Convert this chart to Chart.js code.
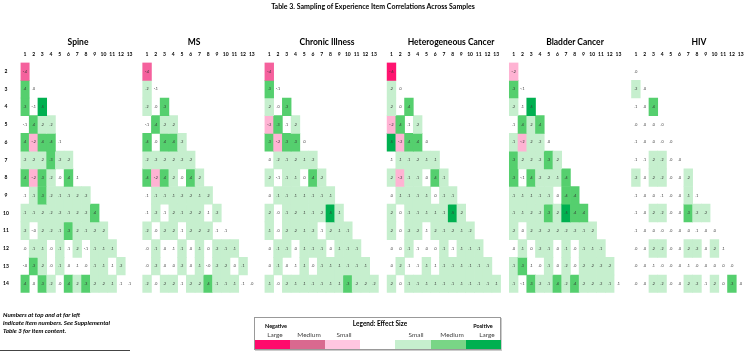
<!DOCTYPE html>
<html>
<head>
<meta charset="utf-8">
<script src="https://cdn.jsdelivr.net/npm/chart.js@4.4.1/dist/chart.umd.min.js"></script>
<style>
    html, body { margin: 0; padding: 0; background: #fff; }
    #wrap { position: relative; width: 745px; height: 353px; overflow: hidden; font-family: Lato, 'Open Sans', sans-serif; color: #000; }
    #chartBox { position: absolute; left: 0; top: 0; width: 745px; height: 353px; }
    .lbl { position: absolute; white-space: nowrap; line-height: 1; transform: translate(-50%, -50%); }
    .b { font-weight: bold; }
    #note { position: absolute; left: 3px; top: 311px; font-size: 6.2px; font-style: italic; font-weight: bold; line-height: 8px; }
    #noteLine { position: absolute; left: 0; top: 350px; width: 130px; height: 1px; background: #444; }
    #legendBox { position: absolute; left: 254px; top: 317px; width: 245px; height: 31px; border: 1px solid #999; box-shadow: 1px 1px 0 #ccc; }
    .sw { position: absolute; top: 22px; height: 9px; }
</style>
</head>
<body>
<div id="wrap">
    <div id="chartBox"><canvas id="heat"></canvas></div>
    <div class="lbl b" style="left:373px; top:6px; font-size:7px;">Table 3. Sampling of Experience Item Correlations Across Samples</div>
    <div id="panelTitles"></div>
    <div id="note">Numbers at top and at far left<br>indicate item numbers. See Supplemental<br>Table 3 for item content.</div>
    <div id="noteLine"></div>
    <div id="legendBox"></div>
</div>
<script>
(function () {
    // sample names and where their titles sit
    const sampleNames = ['Spine', 'MS', 'Chronic Illness', 'Heterogeneous Cancer', 'Bladder Cancer', 'HIV'];
    const titleCenters = [78, 194, 327, 451, 575, 699];

    // item numbers
    const itemCols = [1, 2, 3, 4, 5, 6, 7, 8, 9, 10, 11, 12, 13];
    const itemRows = [2, 3, 4, 5, 6, 7, 8, 9, 10, 11, 12, 13, 14];

    // lower triangle correlations, one list per row (row 2 .. row 14)
    const spine = [
        [-0.4],
        [0.4, 0.0],
        [0.3, -0.06, 0.5],
        [-0.06, 0.4, 0.2, 0.2],
        [0.4, -0.2, 0.4, 0.4, 0.06],
        [0.2, 0.2, 0.2, 0.3, 0.2, 0.2],
        [0.4, -0.2, 0.3, 0.2, 0.0, 0.4, 0.06],
        [0.06, 0.1, 0.3, 0.2, 0.1, 0.1, 0.2, 0.2],
        [0.1, 0.1, 0.2, 0.2, 0.2, 0.1, 0.2, 0.2, 0.4],
        [0.2, -0.04, 0.2, 0.2, 0.1, 0.3, 0.2, 0.1, 0.2, 0.2],
        [0.0, 0.1, 0.1, 0.0, 0.1, 0.06, 0.2, -0.06, 0.1, 0.1, 0.1],
        [-0.04, 0.3, 0.2, 0.0, 0.1, 0.04, 0.06, 0.0, 0.1, 0.1, 0.06, 0.2],
        [0.4, 0.0, 0.3, 0.2, 0.04, 0.4, 0.2, 0.3, 0.2, 0.2, 0.1, 0.06, 0.06]
    ];
    const ms = [
        [-0.4],
        [0.2, -0.06],
        [0.2, 0.0, 0.3],
        [-0.06, 0.4, 0.2, 0.2],
        [0.4, 0.0, 0.4, 0.4, 0.2],
        [0.2, 0.2, 0.2, 0.2, 0.2, 0.2],
        [0.4, -0.2, 0.4, 0.2, 0.0, 0.4, 0.2],
        [0.06, 0.1, 0.1, 0.1, 0.2, 0.2, 0.1, 0.2],
        [0.06, 0.2, 0.06, 0.2, 0.1, 0.2, 0.2, 0.06, 0.2],
        [0.2, 0.0, 0.2, 0.2, 0.06, 0.2, 0.2, 0.2, 0.06, 0.06],
        [0.0, 0.1, 0.0, 0.06, 0.1, 0.0, 0.1, 0.0, 0.2, 0.1, 0.1],
        [0.0, 0.2, 0.0, 0.0, 0.2, 0.0, 0.1, -0.04, 0.2, 0.2, 0.0, 0.1],
        [0.2, 0.0, 0.2, 0.2, 0.06, 0.2, 0.2, 0.4, 0.1, 0.1, 0.1, 0.06, 0.0]
    ];
    const chronic = [
        [-0.4],
        [0.3, -0.06],
        [0.2, 0.0, 0.3],
        [-0.2, 0.3, 0.06, 0.2],
        [0.3, -0.2, 0.3, 0.3, 0.0],
        [0.0, 0.2, 0.1, 0.2, 0.1, 0.2],
        [0.2, -0.06, 0.1, 0.1, 0.0, 0.4, 0.2],
        [0.0, 0.1, 0.1, 0.1, 0.1, 0.1, 0.1, 0.1],
        [0.2, 0.0, 0.1, 0.2, 0.1, 0.1, 0.2, 0.5, 0.1],
        [0.1, 0.0, 0.2, 0.2, 0.1, 0.2, 0.06, 0.2, 0.1, 0.1],
        [0.0, 0.1, 0.1, 0.04, 0.1, 0.1, 0.1, 0.0, 0.1, 0.1, 0.1],
        [0.0, 0.1, 0.04, 0.06, 0.1, 0.0, 0.1, 0.1, 0.1, 0.1, 0.1, 0.1],
        [0.1, 0.0, 0.2, 0.1, 0.1, 0.1, 0.1, 0.1, 0.1, 0.3, 0.2, 0.2, 0.2]
    ];
    const hetero = [
        [-0.6],
        [0.2, 0.0],
        [0.2, 0.0, 0.4],
        [-0.2, 0.4, 0.06, 0.2],
        [0.5, -0.2, 0.4, 0.4, 0.0],
        [0.06, 0.1, 0.1, 0.2, 0.1, 0.1],
        [0.2, -0.2, 0.1, 0.1, 0.0, 0.4, 0.1],
        [0.0, 0.1, 0.1, 0.1, 0.1, 0.0, 0.1, 0.1],
        [0.2, 0.0, 0.1, 0.1, 0.1, 0.1, 0.1, 0.5, 0.2],
        [0.2, 0.0, 0.2, 0.2, 0.06, 0.2, 0.1, 0.2, 0.1, 0.2],
        [0.0, 0.0, 0.1, 0.06, 0.04, 0.0, 0.1, 0.06, 0.1, 0.1, 0.1],
        [0.0, 0.2, 0.06, 0.06, 0.1, 0.06, 0.1, 0.1, 0.1, 0.1, 0.1, 0.1],
        [0.2, 0.0, 0.1, 0.1, 0.1, 0.1, 0.1, 0.1, 0.1, 0.1, 0.1, 0.1, 0.1]
    ];
    const bladder = [
        [-0.2],
        [0.3, -0.06],
        [0.2, 0.06, 0.5],
        [0.06, 0.4, 0.2, 0.4],
        [0.1, -0.2, 0.2, 0.2, 0.0],
        [0.3, 0.2, 0.2, 0.2, 0.3, 0.2],
        [0.3, -0.06, 0.4, 0.2, 0.2, 0.1, 0.4],
        [0.1, 0.1, 0.1, 0.1, 0.1, 0.0, 0.4, 0.4],
        [0.1, 0.1, 0.2, 0.2, 0.3, 0.2, 0.5, 0.4, 0.4],
        [0.2, 0.0, 0.2, 0.2, 0.2, 0.2, 0.2, 0.2, 0.1, 0.2],
        [0.0, 0.1, 0.0, 0.2, 0.1, 0.0, 0.1, 0.0, 0.1, 0.1, 0.1],
        [0.1, 0.3, 0.06, 0.04, 0.1, 0.0, 0.2, 0.0, 0.2, 0.2, 0.2, 0.2],
        [0.1, -0.06, 0.3, 0.2, 0.1, 0.4, 0.2, 0.4, 0.2, 0.2, 0.2, 0.1, 0.06]
    ];
    const hiv = [
        [0.0],
        [0.2, 0.0],
        [0.06, 0.0, 0.4],
        [0.0, 0.0, 0.0, 0.0],
        [0.06, 0.0, 0.0, 0.0, 0.0],
        [0.06, 0.06, 0.2, 0.2, 0.0, 0.0],
        [0.2, 0.0, 0.2, 0.2, 0.0, 0.0, 0.2],
        [0.06, 0.0, 0.0, 0.06, 0.0, 0.0, 0.1, 0.06],
        [0.06, 0.0, 0.2, 0.2, 0.0, 0.0, 0.3, 0.2, 0.2],
        [0.06, 0.0, 0.0, 0.0, 0.0, 0.0, 0.0, 0.06, 0.0, 0.0],
        [0.0, 0.0, 0.2, 0.2, 0.0, 0.0, 0.2, 0.2, 0.0, 0.2, 0.06],
        [0.0, 0.0, 0.06, 0.0, 0.0, 0.0, 0.06, 0.0, 0.0, 0.0, 0.0, 0.0],
        [0.0, 0.0, 0.2, 0.2, 0.0, 0.0, 0.2, 0.2, 0.06, 0.2, 0.0, 0.3, 0.0]
    ];
    const samples = [spine, ms, chronic, hetero, bladder, hiv];

    // effect size colours: small, medium, large
    const posColors = ['#c6efce', '#55cf6e', '#00b050'];
    const negColors = ['#ffb3d3', '#f5619d', '#ff1470'];
    const legendNeg = ['#ff0a6c', '#d9698f', '#ffc6e0'];
    const legendPos = ['#c6efce', '#79d586', '#00b050'];

    const slotsPerSample = itemCols.length + 1;
    const slotCount = samples.length * slotsPerSample - 1;

    function cellColor(v) {
        const a = Math.abs(v);
        if (a < 0.1) {
            return null;
        }
        const lvl = a >= 0.5 ? 2 : (a >= 0.3 ? 1 : 0);
        return (v > 0 ? posColors : negColors)[lvl];
    }

    function fmtCorr(v) {
        return v.toFixed(1).replace('0.', '.');
    }

    const labels = [];
    for (let i = 0; i < slotCount; i++) {
        labels.push(String(i));
    }

    const datasets = itemRows.map((r, ri) => {
        const data = new Array(slotCount).fill(null);
        const colors = new Array(slotCount).fill('rgba(0,0,0,0)');
        samples.forEach((s, k) => {
            s[ri].forEach((v, j) => {
                const c = cellColor(v);
                if (c) {
                    data[k * slotsPerSample + j] = [r - 0.5, r + 0.5];
                    colors[k * slotsPerSample + j] = c;
                }
            });
        });
        return {
            label: 'Item ' + r,
            data,
            backgroundColor: colors,
            borderWidth: 0,
            grouped: false,
            barPercentage: 1,
            categoryPercentage: 1
        };
    });

    const textPlugin = {
        id: 'cellText',
        afterDatasetsDraw(chart) {
            const ctx = chart.ctx;
            const x = chart.scales.x;
            const y = chart.scales.y;
            ctx.save();
            ctx.textAlign = 'center';
            ctx.textBaseline = 'middle';

            ctx.font = '3.6px Lato';
            ctx.fillStyle = '#333';
            samples.forEach((s, k) => {
                s.forEach((row, ri) => {
                    row.forEach((v, j) => {
                        ctx.fillText(fmtCorr(v), x.getPixelForValue(k * slotsPerSample + j), y.getPixelForValue(itemRows[ri]));
                    });
                });
            });

            ctx.font = 'bold 5px Lato';
            ctx.fillStyle = '#000';
            const headY = y.getPixelForValue(1.05);
            samples.forEach((s, k) => {
                itemCols.forEach((c, j) => {
                    ctx.fillText(String(c), x.getPixelForValue(k * slotsPerSample + j), headY);
                });
            });
            itemRows.forEach(r => {
                ctx.fillText(String(r), 6, y.getPixelForValue(r));
            });
            ctx.restore();
        }
    };

    new Chart(document.getElementById('heat'), {
        type: 'bar',
        data: { labels, datasets },
        options: {
            responsive: true,
            maintainAspectRatio: false,
            animation: false,
            devicePixelRatio: 1,
            layout: { padding: { left: 20.5, right: 0, top: 62.6, bottom: 60.3 } },
            scales: {
                x: { type: 'category', offset: true, display: false },
                y: { type: 'linear', min: 1.5, max: 14.5, reverse: true, display: false }
            },
            plugins: {
                legend: { display: false },
                tooltip: { enabled: false }
            }
        },
        plugins: [textPlugin]
    });

    // sample titles
    const titleBox = document.getElementById('panelTitles');
    sampleNames.forEach((name, k) => {
        const el = document.createElement('div');
        el.className = 'lbl b';
        el.style.left = titleCenters[k] + 'px';
        el.style.top = '42px';
        el.style.fontSize = '8.5px';
        el.textContent = name;
        titleBox.appendChild(el);
    });

    // effect size legend
    const box = document.getElementById('legendBox');
    const swatches = [legendNeg[0], legendNeg[1], legendNeg[2], '#fff', legendPos[0], legendPos[1], legendPos[2]];
    swatches.forEach((c, i) => {
        const sw = document.createElement('div');
        sw.className = 'sw';
        sw.style.left = (i * 35.1) + 'px';
        sw.style.width = '35.2px';
        sw.style.background = c;
        box.appendChild(sw);
    });
    const legendTexts = [
        ['Negative', 21, 8.5, 5.5, true],
        ['Legend:  Effect Size', 125, 6, 6.5, true],
        ['Positive', 228, 8.5, 5.5, true],
        ['Large', 20, 17, 6.5, false],
        ['Medium', 54, 17, 6.5, false],
        ['Small', 89, 17, 6.5, false],
        ['Small', 161, 17, 6.5, false],
        ['Medium', 197, 17, 6.5, false],
        ['Large', 232, 17, 6.5, false]
    ];
    legendTexts.forEach(t => {
        const el = document.createElement('div');
        el.className = 'lbl' + (t[4] ? ' b' : '');
        el.style.left = t[1] + 'px';
        el.style.top = t[2] + 'px';
        el.style.fontSize = t[3] + 'px';
        if (!t[4]) {
            el.style.color = '#444';
        }
        el.textContent = t[0];
        box.appendChild(el);
    });
})();
</script>
</body>
</html>
